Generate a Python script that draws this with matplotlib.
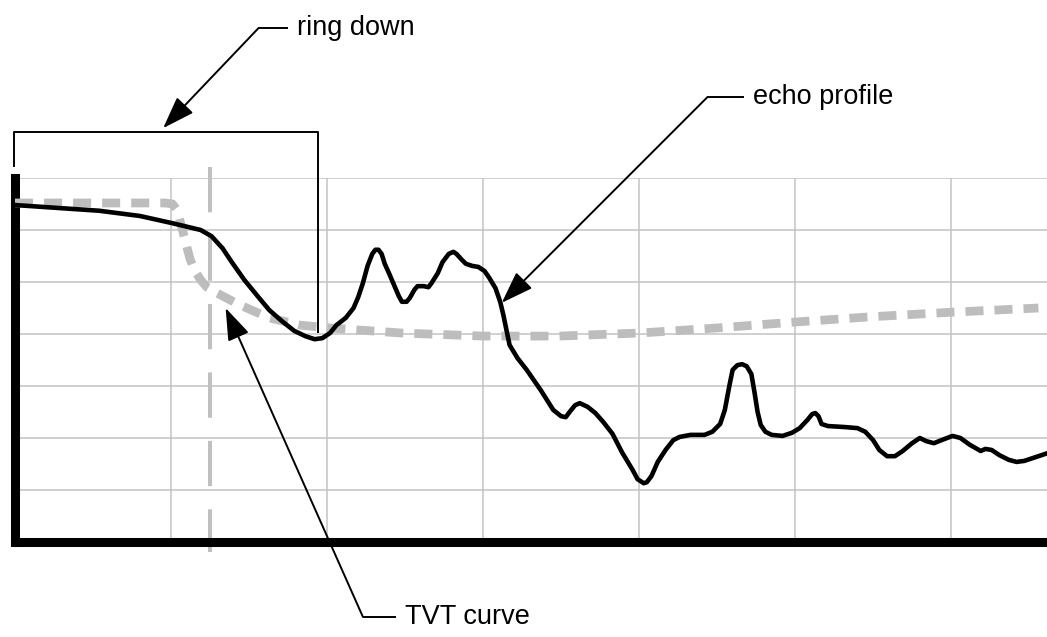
import matplotlib
matplotlib.use("Agg")
import matplotlib.pyplot as plt
from matplotlib.patches import FancyArrowPatch

plt.rcParams["font.family"] = ["Liberation Sans", "DejaVu Sans"]

# echo profile (time, amplitude)
echo_t = [0.0, 2.9, 5.4, 8.0, 10.1, 11.9, 12.6, 13.3, 13.9, 14.7, 15.6, 16.3, 17.1, 17.9,
          18.6, 19.2, 19.7, 20.2, 20.6, 21.2, 21.7, 22.0, 22.3, 22.6, 22.9, 23.1, 23.3,
          23.5, 23.7, 24.0, 24.3, 24.6, 24.8, 25.1, 25.3, 25.6, 25.8, 26.2, 26.5, 26.7,
          27.1, 27.4, 27.8, 28.1, 28.3, 28.6, 28.9, 29.3, 29.7, 30.1, 30.4, 30.8, 31.1,
          31.3, 31.5, 31.7, 32.2, 32.8, 33.7, 34.5, 35.0, 35.3, 35.6, 35.9, 36.2, 36.7,
          37.2, 37.7, 38.3, 38.9, 39.6, 39.9, 40.3, 40.5, 40.8, 41.2, 41.7, 42.2, 42.6,
          43.3, 44.2, 44.7, 45.2, 45.5, 45.8, 46.0, 46.3, 46.6, 46.9, 47.2, 47.4, 47.6,
          47.8, 48.1, 48.5, 49.2, 49.8, 50.3, 50.8, 51.1, 51.3, 51.5, 51.7, 52.1, 53.2,
          54.0, 54.5, 55.0, 55.4, 55.9, 56.4, 56.9, 57.5, 58.0, 58.4, 58.9, 59.4, 60.1,
          60.6, 61.2, 61.9, 62.2, 62.6, 63.1, 63.7, 64.2, 64.7, 65.4, 66.2]
echo_a = [64.8, 64.2, 63.7, 62.7, 61.3, 60.0, 58.8, 56.5, 53.8, 50.4, 47.1, 44.6, 42.5, 40.6,
          39.6, 39.0, 39.2, 40.2, 41.7, 43.1, 45.0, 47.1, 49.8, 53.1, 55.4, 56.2, 56.2,
          55.4, 53.5, 51.5, 49.4, 47.3, 46.2, 46.2, 46.9, 48.5, 49.2, 49.2, 49.0, 49.8,
          51.7, 53.8, 55.4, 55.8, 55.4, 54.4, 53.5, 53.1, 52.9, 52.1, 50.8, 48.8, 46.2,
          43.7, 40.8, 37.9, 35.4, 33.1, 29.2, 25.4, 24.2, 24.0, 25.2, 26.3, 26.7, 26.0,
          24.8, 23.1, 20.8, 17.3, 13.8, 12.1, 11.3, 11.5, 12.7, 15.4, 17.7, 19.6, 20.2,
          20.6, 20.6, 21.2, 22.7, 25.4, 30.2, 33.1, 34.0, 34.2, 33.8, 32.3, 28.8, 25.0,
          22.5, 21.2, 20.6, 20.4, 21.0, 21.9, 23.5, 24.6, 24.8, 24.2, 22.7, 22.3, 22.1,
          21.9, 21.2, 19.6, 17.7, 16.5, 16.5, 17.5, 19.0, 20.0, 19.4, 19.0, 19.6, 20.4,
          20.0, 18.7, 17.5, 17.9, 17.7, 16.7, 15.8, 15.4, 15.6, 16.3, 17.1]

# time-varying threshold curve
tvt_t = [0, 9.6, 10.1, 10.4, 10.6, 10.9, 11.2, 11.5, 11.9, 12.3, 12.8, 14.4, 16.3, 18.3,
         20.0, 24.7, 30.0, 34.9, 40.1, 45.2, 50.0, 54.8, 60.1, 65.6]
tvt_a = [65.2, 65.2, 65.0, 63.8, 61.5, 58.1, 54.6, 52.3, 50.4, 49.0, 48.1, 45.6, 43.1, 41.7,
         41.2, 40.2, 39.6, 39.6, 40.2, 41.2, 42.3, 43.3, 44.2, 45.0]

blank_t = 12.5          # end of transducer blanking
ring_t = (-0.06, 19.4)  # ring-down span
ring_top, ring_left_low, ring_right_low = 78.8, 72.3, 40.4

fig = plt.figure(figsize=(10.47, 6.37), dpi=100)
ax = fig.add_axes([15 / 1047, 95 / 637, 1032 / 1047, 364 / 637])
ax.set_xlim(0, 66.15)
ax.set_ylim(0, 70)

ax.set_xticks(range(10, 70, 10))
ax.set_yticks(range(10, 80, 10))
ax.grid(True, color="#c4c4c4", lw=1.1)
ax.tick_params(length=0, labelbottom=False, labelleft=False)
for s in ("top", "right"):
    ax.spines[s].set_visible(False)
for s in ("left", "bottom"):
    ax.spines[s].set_linewidth(6.5)
    ax.spines[s].set_capstyle("projecting")

ax.plot([blank_t, blank_t], [72.1, -1.9], color="#c0c0c0", lw=2.9,
        dashes=(11.25, 5.75), dash_capstyle="butt", clip_on=False, zorder=2)
ax.plot(tvt_t, tvt_a, color="#bdbdbd", lw=6.3, dashes=(2.06, 1.26),
        dash_capstyle="butt", zorder=3)
ax.plot(echo_t, echo_a, color="black", lw=3.3, solid_joinstyle="round",
        solid_capstyle="round", zorder=4)

# ring-down bracket
ax.plot([ring_t[0], ring_t[0], ring_t[1], ring_t[1]],
        [ring_left_low, ring_top, ring_top, ring_right_low],
        color="black", lw=1.4, clip_on=False, zorder=5)


def callout(tip, elbow, end, label):
    ax.plot([elbow[0], end[0]], [elbow[1], end[1]], color="black", lw=1.4,
            clip_on=False, solid_capstyle="butt")
    arr = FancyArrowPatch(elbow, tip, arrowstyle="-|>,head_length=2.0,head_width=0.7",
                          mutation_scale=10, shrinkA=0, shrinkB=0, color="black",
                          lw=1.4, clip_on=False, zorder=6)
    ax.add_patch(arr)
    ax.text(end[0] + 0.6, end[1], label, fontsize=19.5, va="center", ha="left",
            clip_on=False)


callout((9.5, 79.6), (15.6, 98.8), (17.5, 98.8), "ring down")
callout((31.2, 46.0), (44.4, 85.6), (46.7, 85.6), "echo profile")
callout((13.5, 45.0), (22.3, -14.4), (24.4, -14.4), "TVT curve")

fig.savefig("out.png", dpi=100, facecolor="white")
